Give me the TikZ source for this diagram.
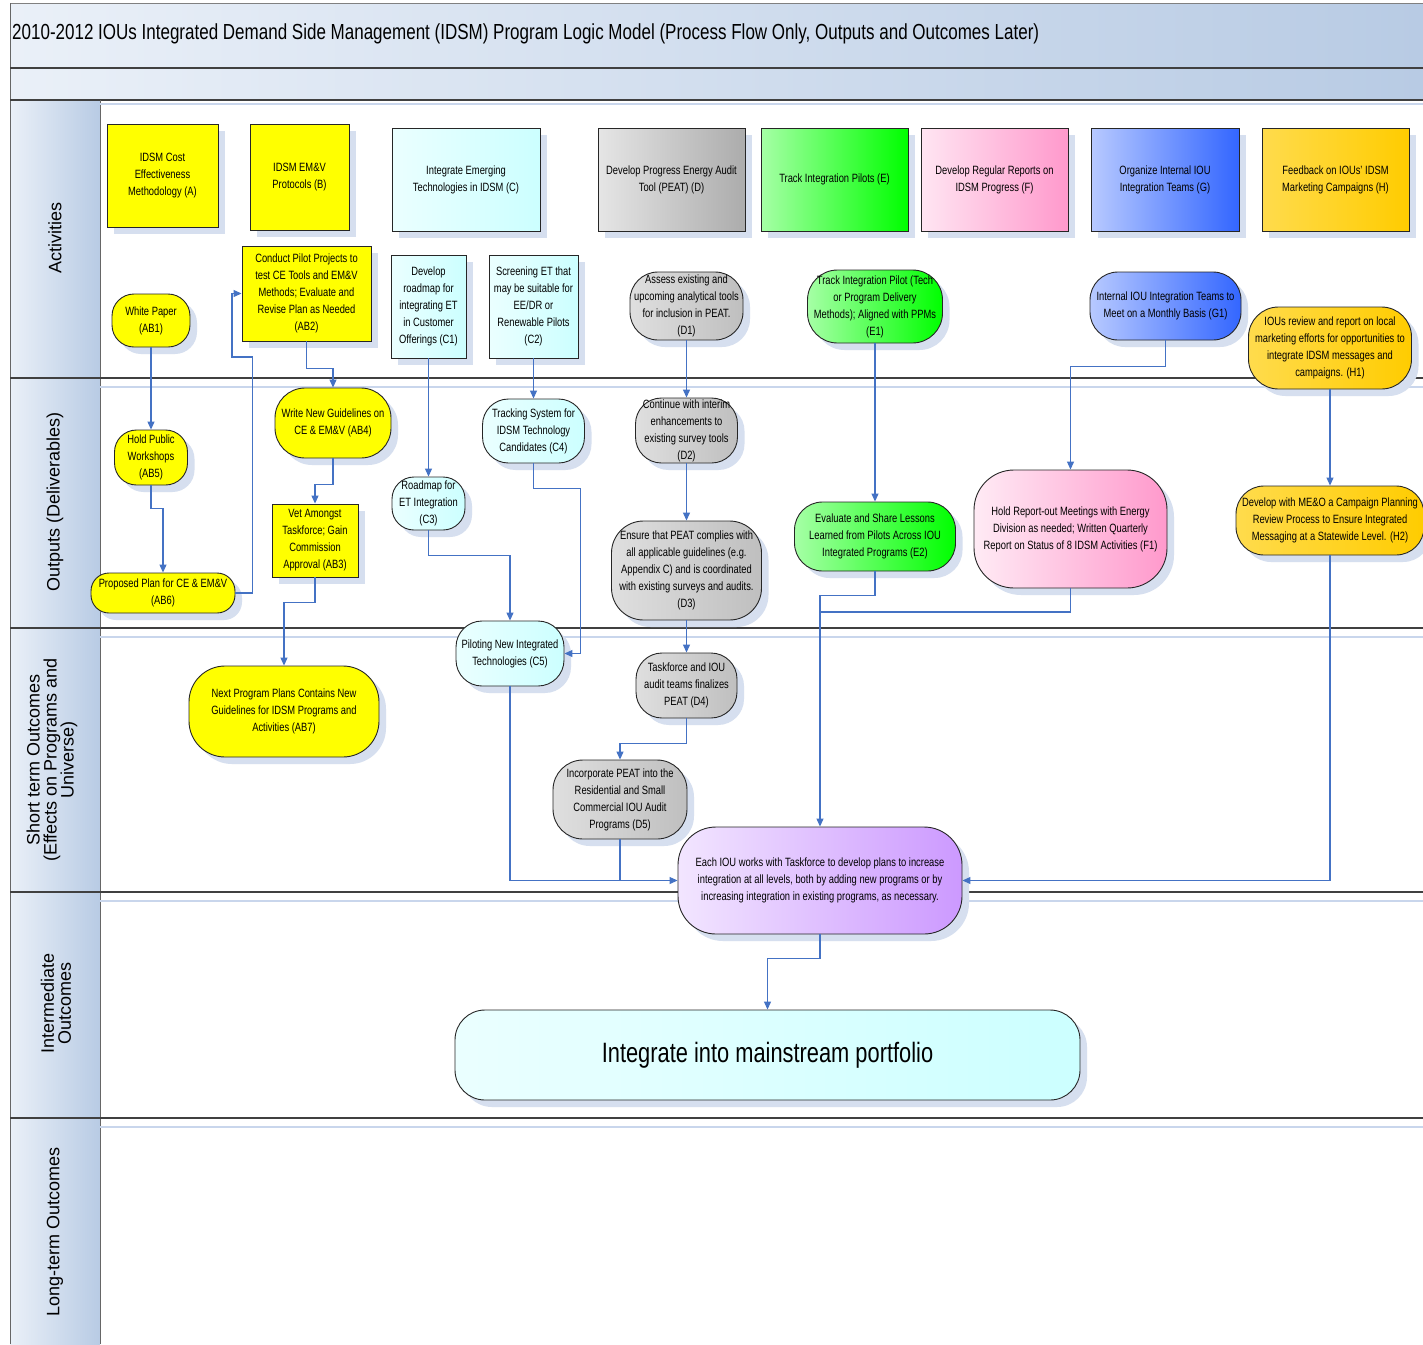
\documentclass[tikz,border=0pt]{standalone}
\usepackage{fontspec}
\setmainfont[FakeStretch=0.78]{Liberation Sans}
\newfontfamily\lanefont{Liberation Sans}
\usetikzlibrary{arrows.meta,shadows}
\definecolor{yel}{HTML}{FFFF00}
\definecolor{cya}{HTML}{CCFFFF}
\definecolor{gry}{HTML}{BFBFBF}
\definecolor{grn}{HTML}{00FF00}
\definecolor{pnk}{HTML}{FF99CC}
\definecolor{blu}{HTML}{3366FF}
\definecolor{gld}{HTML}{FFCC00}
\definecolor{prp}{HTML}{CC99FF}
\definecolor{arr}{HTML}{4472C4}
\definecolor{shd}{HTML}{D6DFEF}
\definecolor{bandL}{HTML}{EAF0F8}
\definecolor{bandR}{HTML}{B8CBE4}
\definecolor{laneline}{HTML}{404040}
\definecolor{lanelite}{HTML}{C9D6EC}
\begin{document}
\begin{tikzpicture}[x=1pt,y=-1pt,
  box/.style={draw=black!85, line width=0.9pt, inner sep=1pt, align=center,
    font=\fontsize{12}{17}\selectfont,
    drop shadow={shadow xshift=7pt,shadow yshift=-7pt,fill=shd,opacity=1}},
  rbox/.style={box},
  stad/.style={box, rounded corners=#1},
  cgrad/.style={left color=#1!35!white, middle color=#1, right color=#1},
  conn/.style={draw=arr, line width=1.1pt, -{Triangle[length=8pt,width=7pt]}},
  line/.style={draw=arr, line width=1.1pt},
  lanelab/.style={font=\lanefont\fontsize{18}{17}\selectfont, rotate=90, align=center, text=black}
]
\useasboundingbox (0,0) rectangle (1423,1344);
\fill[white] (0,0) rectangle (1423,1344);
% bands
\shade[left color=bandL, right color=bandR] (10,3) rectangle (1423,68);
\shade[left color=bandL, right color=bandR] (10,68) rectangle (1423,100);
\shade[left color=bandL, right color=bandR] (10,100) rectangle (100,1344);
\draw[black!50, line width=0.8pt] (10,3) -- (1423,3);
\draw[black!60, line width=0.8pt] (10,3) -- (10,1344);
\draw[laneline, line width=2pt] (10,68) -- (1423,68);
\draw[laneline, line width=2pt] (10,100) -- (1423,100);
\draw[black!60, line width=0.8pt] (100,100) -- (100,1344);
\draw[lanelite, line width=2pt] (100,104) -- (1423,104);
\foreach \yy in {378,628,892,1118}{
  \draw[laneline, line width=2.2pt] (10,\yy) -- (1423,\yy);
  \draw[lanelite, line width=2pt] (100,\yy+9) -- (1423,\yy+9);
}
\node[anchor=west, font=\fontsize{21.8}{24}\selectfont, inner sep=0] (title) at (12,34) {2010-2012 IOUs Integrated Demand Side Management (IDSM) Program Logic Model (Process Flow Only, Outputs and Outcomes Later)};
% lane labels
\node[lanelab] (L1) at (55,238) {Activities};
\node[lanelab] (L2) at (55,502) {Outputs (Deliverables)};
\node[lanelab] (L3) at (52,760) {Short term Outcomes\\(Effects on Programs and\\Universe)};
\node[lanelab] (L4) at (56,1003) {Intermediate\\Outcomes};
\node[lanelab] (L5) at (55,1232) {Long-term Outcomes};
% top activities
\node[rbox, fill=yel, minimum width=111pt, minimum height=103pt] (A) at (162.5,175.5) {IDSM Cost\\Effectiveness\\Methodology (A)};
\node[rbox, fill=yel, minimum width=99pt, minimum height=106pt] (B) at (299.5,177) {IDSM EM\&V\\Protocols (B)};
\node[rbox, left color=cya!40!white, right color=cya, minimum width=148pt, minimum height=103pt] (C) at (466,179.5) {Integrate Emerging\\Technologies in IDSM (C)};
\node[rbox, left color=gry!40!white, right color=gry!90!black, minimum width=147pt, minimum height=103pt] (D) at (671.5,179.5) {Develop Progress Energy Audit\\Tool (PEAT) (D)};
\node[rbox, cgrad=grn, minimum width=147pt, minimum height=103pt] (E) at (834.5,179.5) {Track Integration Pilots (E)};
\node[rbox, left color=pnk!25!white, right color=pnk, minimum width=147pt, minimum height=103pt] (F) at (994.5,179.5) {Develop Regular Reports on\\IDSM Progress (F)};
\node[rbox, cgrad=blu, minimum width=148pt, minimum height=103pt] (G) at (1165,179.5) {Organize Internal IOU\\Integration Teams (G)};
\node[rbox, left color=gld!70!white, right color=gld, minimum width=147pt, minimum height=103pt] (H) at (1335.5,179.5) {Feedback on IOUs' IDSM\\Marketing Campaigns (H)};
% second row activities
\node[stad=22pt, fill=yel, minimum width=78pt, minimum height=53pt] (AB1) at (151,320.5) {White Paper\\(AB1)};
\node[rbox, fill=yel, minimum width=129pt, minimum height=95pt] (AB2) at (306.5,293.5) {Conduct Pilot Projects to\\test CE Tools and EM\&V\\Methods; Evaluate and\\Revise Plan as Needed\\(AB2)};
\node[rbox, left color=cya!40!white, right color=cya, minimum width=75pt, minimum height=103pt] (C1) at (428.5,306.5) {Develop\\roadmap for\\integrating ET\\in Customer\\Offerings (C1)};
\node[rbox, left color=cya!40!white, right color=cya, minimum width=89pt, minimum height=103pt] (C2) at (533.5,306.5) {Screening ET that\\may be suitable for\\EE/DR or\\Renewable Pilots\\(C2)};
\node[stad=28pt, left color=gry!50!white, right color=gry, minimum width=113pt, minimum height=68pt] (D1) at (686.5,306) {Assess existing and\\upcoming analytical tools\\for inclusion in PEAT.\\(D1)};
\node[stad=30pt, cgrad=grn, minimum width=135pt, minimum height=73pt] (E1) at (875,306.5) {Track Integration Pilot (Tech\\or Program Delivery\\Methods); Aligned with PPMs\\(E1)};
\node[stad=28pt, cgrad=blu, minimum width=151pt, minimum height=68pt] (G1) at (1165.5,306) {Internal IOU Integration Teams to\\Meet on a Monthly Basis (G1)};
\node[stad=30pt, left color=gld!70!white, right color=gld, minimum width=163pt, minimum height=82pt] (H1) at (1330,348) {IOUs review and report on local\\marketing efforts for opportunities to\\integrate IDSM messages and\\campaigns. (H1)};
% outputs
\node[stad=30pt, fill=yel, minimum width=116pt, minimum height=70pt] (AB4) at (333,423) {Write New Guidelines on\\CE \& EM\&V (AB4)};
\node[stad=22pt, fill=yel, minimum width=73pt, minimum height=55pt] (AB5) at (151,457.5) {Hold Public\\Workshops\\(AB5)};
\node[rbox, fill=yel, minimum width=86pt, minimum height=73pt] (AB3) at (315,540.5) {Vet Amongst\\Taskforce; Gain\\Commission\\Approval (AB3)};
\node[stad=18pt, fill=yel, minimum width=144pt, minimum height=40pt] (AB6) at (163,593) {Proposed Plan for CE \& EM\&V\\(AB6)};
\node[stad=22pt, left color=cya!40!white, right color=cya, minimum width=73pt, minimum height=53pt] (C3) at (428.5,503.5) {Roadmap for\\ET Integration\\(C3)};
\node[stad=26pt, left color=cya!40!white, right color=cya, minimum width=102pt, minimum height=64pt] (C4) at (533.5,431) {Tracking System for\\IDSM Technology\\Candidates (C4)};
\node[stad=26pt, left color=gry!50!white, right color=gry, minimum width=102pt, minimum height=65pt] (D2) at (686.5,430.5) {Continue with interim\\enhancements to\\existing survey tools\\(D2)};
\node[stad=32pt, left color=gry!50!white, right color=gry, minimum width=150pt, minimum height=99pt] (D3) at (686.5,570.5) {Ensure that PEAT complies with\\all applicable guidelines (e.g.\\Appendix C) and is coordinated\\with existing surveys and audits.\\(D3)};
\node[stad=28pt, cgrad=grn, minimum width=161pt, minimum height=69pt] (E2) at (875,536.5) {Evaluate and Share Lessons\\Learned from Pilots Across IOU\\Integrated Programs (E2)};
\node[stad=40pt, left color=pnk!20!white, right color=pnk, minimum width=193pt, minimum height=118pt] (F1) at (1070.5,529) {Hold Report-out Meetings with Energy\\Division as needed; Written Quarterly\\Report on Status of 8 IDSM Activities (F1)};
\node[stad=28pt, left color=gld!70!white, right color=gld, minimum width=188pt, minimum height=69pt] (H2) at (1330,520.5) {Develop with ME\&O a Campaign Planning\\Review Process to Ensure Integrated\\Messaging at a Statewide Level. (H2)};
% short term
\node[stad=36pt, fill=yel, minimum width=190pt, minimum height=91pt] (AB7) at (284,711.5) {Next Program Plans Contains New\\Guidelines for IDSM Programs and\\Activities (AB7)};
\node[stad=26pt, left color=cya!40!white, right color=cya, minimum width=108pt, minimum height=65pt] (C5) at (510,653.5) {Piloting New Integrated\\Technologies (C5)};
\node[stad=26pt, left color=gry!50!white, right color=gry, minimum width=101pt, minimum height=65pt] (D4) at (686.5,685.5) {Taskforce and IOU\\audit teams finalizes\\PEAT (D4)};
\node[stad=30pt, left color=gry!50!white, right color=gry, minimum width=134pt, minimum height=79pt] (D5) at (620,799.5) {Incorporate PEAT into the\\Residential and Small\\Commercial IOU Audit\\Programs (D5)};
\node[stad=38pt, left color=prp!25!white, right color=prp, minimum width=284pt, minimum height=107pt] (P) at (820,880.5) {Each IOU works with Taskforce to develop plans to increase\\integration at all levels, both by adding new programs or by\\increasing integration in existing programs, as necessary.};
% intermediate
\node[stad=30pt, left color=cya!40!white, right color=cya, minimum width=625pt, minimum height=90pt, font=\fontsize{28}{30}\selectfont] (M) at (767.5,1055) {Integrate into mainstream portfolio};
% connectors
\draw[conn] (AB1.south) -- (AB5.north);
\draw[conn] (AB5.south) -- ++(0,23) -| (AB6.north);
\coordinate (k1) at (232,357);
\draw[conn] (AB6.east) -- ++(17,0) |- (k1) |- (AB2.west);
\draw[conn] (AB2.south) -- ++(0,27) -| (AB4.north);
\draw[conn] (AB4.south) -- ++(0,26) -| (AB3.north);
\draw[conn] (AB3.south) -- ++(0,25) -| (AB7.north);
\draw[conn] (C1.south) -- (C3.north);
\draw[conn] (C3.south) -- ++(0,25) -| (C5.north);
\draw[conn] (C2.south) -- (C4.north);
\draw[conn] (C4.south) -- ++(0,25) -- ++(47,0) |- (C5.east);
\draw[conn] (D1.south) -- (D2.north);
\draw[conn] (D2.south) -- (D3.north);
\draw[conn] (D3.south) -- (D4.north);
\draw[conn] (D4.south) -- ++(0,25) -| (D5.north);
\draw[conn] (C5.south) |- (P.west);
\draw[line] (D5.south) -- (D5.south |- P.west);
\draw[conn] (E1.south) -- (E2.north);
\draw[conn] (E2.south) -- ++(0,24) -| (P.north);
\coordinate (j1) at (820,612);
\draw[line] (F1.south) |- (j1);
\draw[conn] (G1.south) -- ++(0,26) -| (F1.north);
\draw[conn] (H1.south) -- (H2.north);
\draw[conn] (H2.south) |- (P.east);
\draw[conn] (P.south) -- ++(0,24) -| (M.north);
\end{tikzpicture}
\end{document}
